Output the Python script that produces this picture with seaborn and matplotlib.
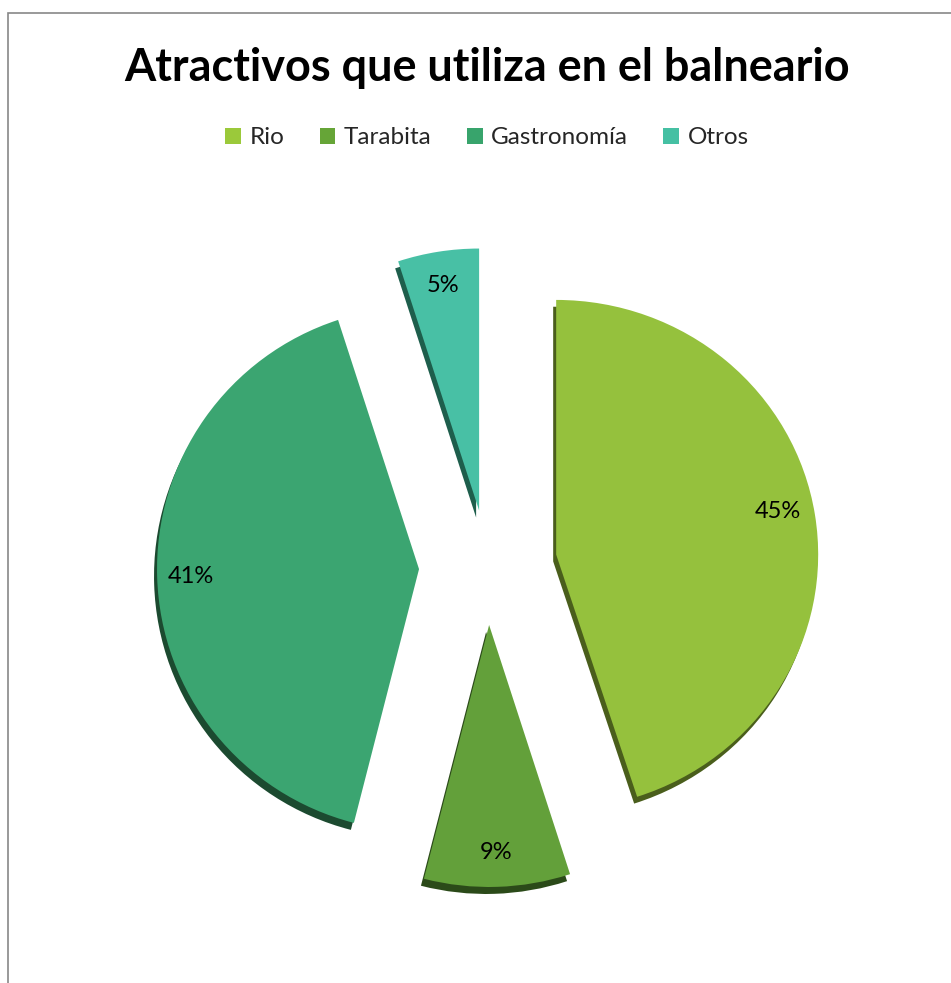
import matplotlib
matplotlib.use("Agg")
import matplotlib.pyplot as plt
import seaborn as sns
from matplotlib.patches import Rectangle, Patch
from matplotlib.transforms import Affine2D

categories = ["Rio", "Tarabita", "Gastronomía", "Otros"]
values = [45, 9, 41, 5]
colors = ["#95C13D", "#63A03A", "#3BA571", "#48C0A5"]
legend_colors = ["#9BC93A", "#66A537", "#38A46C", "#45C0A3"]
shadow_colors = ["#4A5E1C", "#2B4A19", "#1C4A30", "#1E5E4C"]
title = "Atractivos que utiliza en el balneario"

sns.set_theme(style="white")
plt.rcParams["font.family"] = ["Lato", "DejaVu Sans"]

W, H = 951, 983
fig = plt.figure(figsize=(W / 100, H / 100), dpi=100)
ax = fig.add_axes([0, 0, 1, 1])

cx, cy, r = 487, H - 558, 262
explode = [67, 67, 67, 44]  # offsets in data units (pixels)

# slight per-slice perspective adjustments (imitating the 3D tilt)
persp = [
    Affine2D().translate(0, -(H - 800)).scale(1, 0.972).translate(3, H - 800),
    Affine2D(),
    Affine2D().translate(-1, -9),
    Affine2D().translate(-1, 4),
]

# shadow (3D edge)
shadow_wedges, _ = ax.pie(values, colors=shadow_colors, explode=explode, startangle=90,
                          counterclock=False, radius=r, center=(cx - 3, cy - 7),
                          wedgeprops=dict(linewidth=0), frame=True)
wedges, texts, autotexts = ax.pie(
    values, colors=colors, explode=explode, startangle=90,
    counterclock=False, radius=r, center=(cx, cy),
    autopct=lambda p: f"{p:.0f}%", pctdistance=0.87,
    wedgeprops=dict(linewidth=0), frame=True,
    textprops=dict(fontsize=17, color="black"))
for i, t in enumerate(persp):
    shadow_wedges[i].set_transform(t + ax.transData)
    wedges[i].set_transform(t + ax.transData)
    if i != 0:
        autotexts[i].set_transform(t + ax.transData)
ax.set_xlim(0, W)
ax.set_ylim(0, H)
ax.axis("off")

fig.text(487 / W, 1 - 68 / H, title, ha="center", va="center",
         fontsize=32.4, fontweight="bold", color="black")

handles = [Patch(facecolor=c, edgecolor="none") for c in legend_colors]
fig.legend(handles, categories, loc="center", bbox_to_anchor=(487 / W, 1 - 138 / H),
           ncol=4, frameon=False, fontsize=17.5, handlelength=0.65, handleheight=0.65,
           handletextpad=0.35, columnspacing=1.45)

fig.patches.append(Rectangle((8 / W, -0.1), 1.2, 1 - 13 / H + 0.1,
                             transform=fig.transFigure, fill=False,
                             edgecolor="#878787", linewidth=1.2))

fig.savefig("out.png", dpi=100)
